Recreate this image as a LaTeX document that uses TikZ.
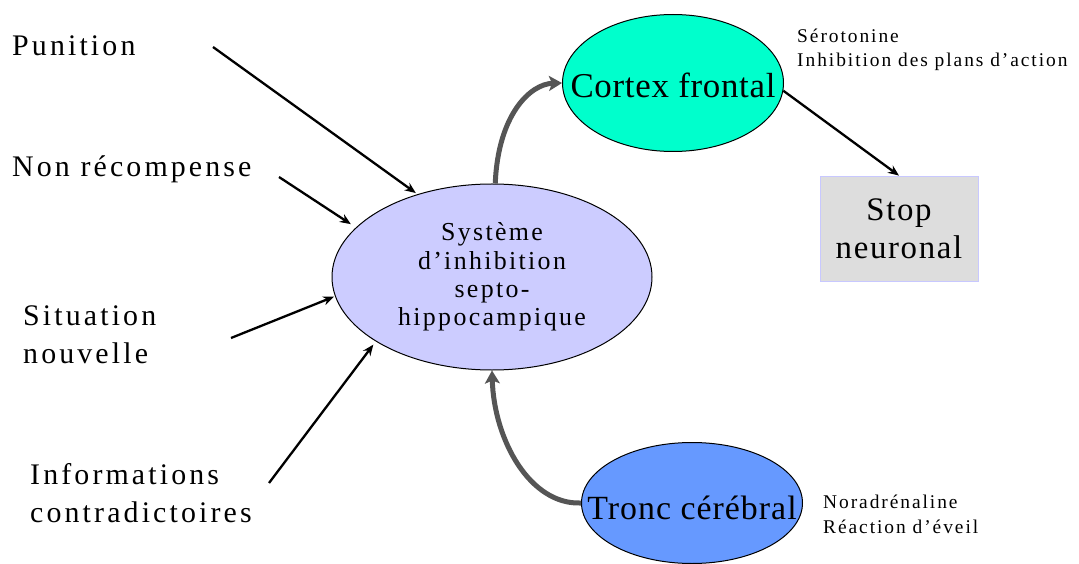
\documentclass[tikz,border=0pt]{standalone}
\usepackage{fontspec}
\setmainfont{Liberation Serif}
\newfontfamily\flbl[LetterSpace=10.5]{Liberation Serif}
\newfontfamily\fsys[LetterSpace=9]{Liberation Serif}
\newfontfamily\fcx[LetterSpace=2]{Liberation Serif}
\newfontfamily\ftr[LetterSpace=3]{Liberation Serif}
\newfontfamily\fstop[LetterSpace=5]{Liberation Serif}
\newfontfamily\fsmall[LetterSpace=10]{Liberation Serif}
\usetikzlibrary{shapes.geometric,arrows.meta}
\definecolor{sysfill}{HTML}{CCCCFF}
\definecolor{cxfill}{HTML}{00FFCC}
\definecolor{trfill}{HTML}{6699FF}
\definecolor{stopfill}{HTML}{DDDDDD}
\definecolor{stopline}{HTML}{C8C8FF}
\definecolor{grayarrow}{HTML}{555555}
\begin{document}
\begin{tikzpicture}[x=1bp,y=-1bp,
  lbl/.style={inner sep=0pt, font=\fontsize{30}{37.5}\selectfont\flbl},
  small/.style={inner sep=0pt, font=\fontsize{19.5}{25}\selectfont\fsmall},
  ell/.style={ellipse, draw=black, line width=1bp, inner sep=0pt},
  blk/.style={draw=black, line width=2.3bp, -{Stealth[length=11bp,width=9bp]}},
  gry/.style={draw=grayarrow, line width=5bp, -{Stealth[length=13bp,width=15bp,inset=3bp]}}
]
\useasboundingbox (0,0) rectangle (1079,564);

% ellipses
\node[ell, fill=sysfill, minimum width=320bp, minimum height=186bp, align=center,
      font=\fontsize{26}{28.5}\selectfont\fsys] (sys) at (492,277)
      {Système\\d’inhibition\\septo-\\hippocampique};
\node[ell, fill=cxfill, minimum width=221bp, minimum height=137bp,
      label={[inner sep=0pt, yshift=-2bp, font=\fontsize{35}{40}\selectfont\fcx]center:Cortex frontal}] (cx) at (673,83) {};
\node[ell, fill=trfill, minimum width=221bp, minimum height=121bp,
      label={[inner sep=0pt, yshift=-5bp, font=\fontsize{34}{40}\selectfont\ftr]center:Tronc cérébral}] (tr) at (692,503) {};

% stop box
\node[draw=stopline, fill=stopfill, line width=0.8bp, minimum width=158bp, minimum height=105bp,
      align=center, inner sep=0pt, font=\fontsize{33}{38}\selectfont\fstop] (stop) at (899,228.5)
      {Stop\\neuronal};

% left labels
\node[lbl, anchor=base west] (pun) at (12,56) {Punition};
\node[lbl, anchor=base west] (non) at (12,177) {Non récompense};
\node[lbl, anchor=base west, align=left] (sit) at (23,363) {Situation\\nouvelle};
\node[lbl, anchor=base west, align=left] (inf) at (30,522) {Informations\\contradictoires};

% small labels
\node[small, anchor=base west, align=left] (sero) at (797,67) {Sérotonine\\Inhibition des plans d’action};
\node[small, anchor=base west, align=left] (nora) at (823,533) {Noradrénaline\\Réaction d’éveil};

% arrow tails
\coordinate (tpun) at (213,47);
\coordinate (tnon) at (279,177);
\coordinate (tsit) at (231,338);
\coordinate (tinf) at (269,483);

\draw[blk, shorten >=2bp] (tpun) -- (sys.132);
\draw[blk, shorten >=6bp] (tnon) -- (sys.160);
\draw[blk, shorten >=1bp] (tsit) -- (sys.187);
\draw[blk, shorten >=4bp] (tinf) -- (sys.209);
\draw[blk] (cx.-4) -- (stop.north);

\draw[gry] (sys.88) .. controls (498,115) and (530,84) .. (cx.west);
\draw[gry] (tr.west) .. controls (530,505) and (494,440) .. (sys.south);
\end{tikzpicture}
\end{document}
